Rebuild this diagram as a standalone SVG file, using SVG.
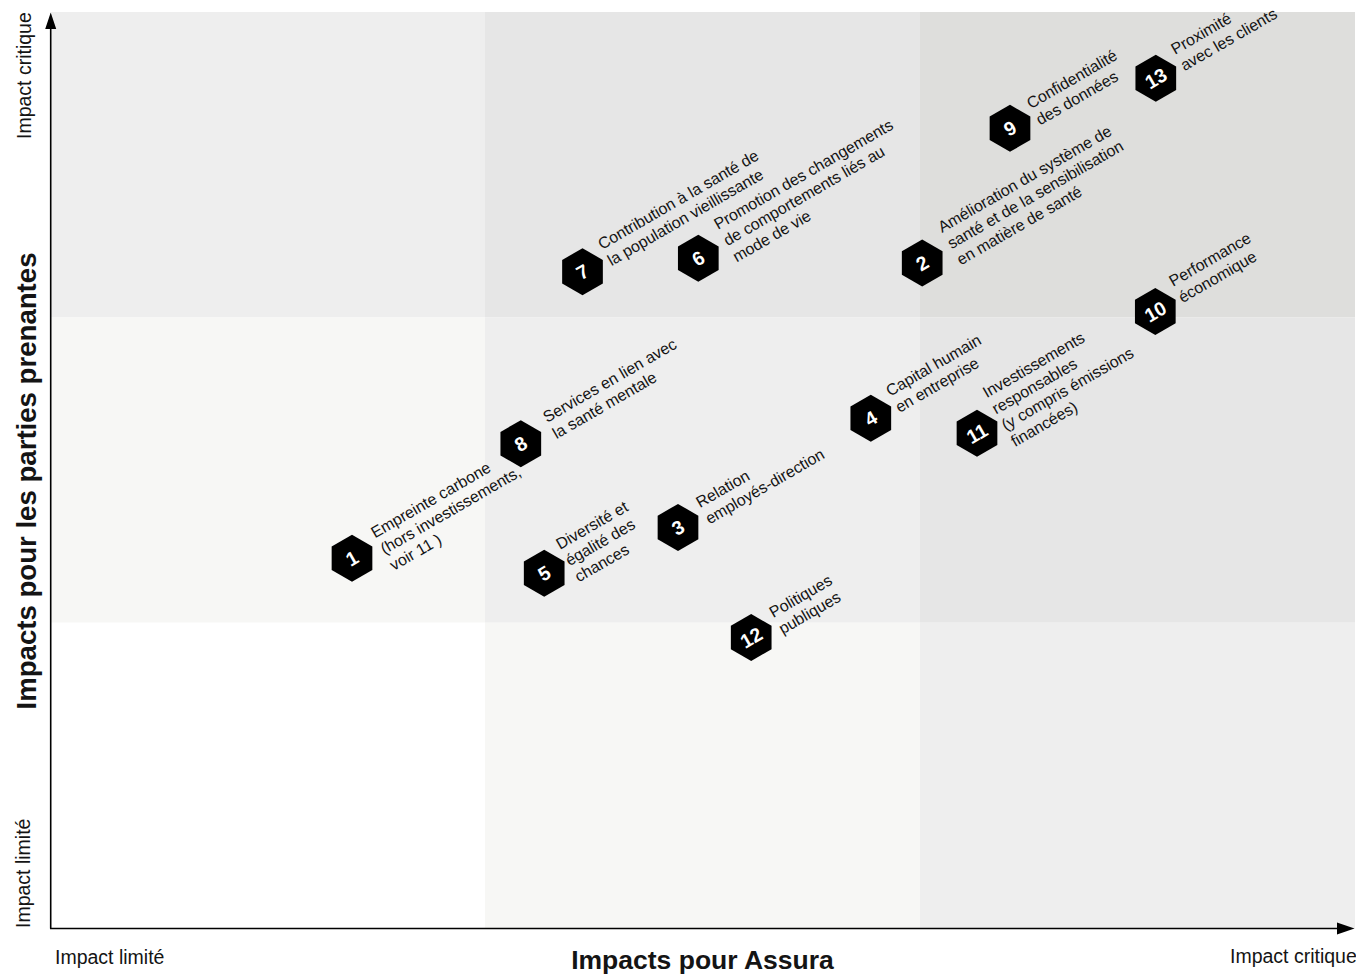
<svg xmlns="http://www.w3.org/2000/svg" xmlns:xlink="http://www.w3.org/1999/xlink" width="1356" height="974" viewBox="0 0 1356 974">
<style>
.l0{fill:#ffffff}.l1{fill:#f7f7f5}.l2{fill:#eeeeee}.l3{fill:#e6e6e6}.l4{fill:#dededc}
.hex{fill:#000000}
.num{font-family:"Liberation Sans",Arial,sans-serif;font-weight:bold;font-size:19.5px;fill:#ffffff;text-anchor:middle}
.lab{font-family:"Liberation Sans",Arial,sans-serif;font-size:16px;fill:#141414}
.ax{font-family:"Liberation Sans",Arial,sans-serif;font-size:19.5px;fill:#141414}
.axb{font-family:"Liberation Sans",Arial,sans-serif;font-weight:bold;fill:#141414}
.axis{stroke:#000;stroke-width:1.6;fill:none}
</style>
<defs>
<polygon id="hex" points="0,-23.5 20.35,-11.75 20.35,11.75 0,23.5 -20.35,11.75 -20.35,-11.75"/>
</defs>
<g id="grid">
<rect class="l2" x="51" y="12" width="434" height="305.5"/>
<rect class="l3" x="485" y="12" width="435" height="305.5"/>
<rect class="l4" x="920" y="12" width="435" height="305.5"/>
<rect class="l1" x="51" y="317.5" width="434" height="305.2"/>
<rect class="l2" x="485" y="317.5" width="435" height="305.2"/>
<rect class="l3" x="920" y="317.5" width="435" height="305.2"/>
<rect class="l0" x="51" y="622.7" width="434" height="305.8"/>
<rect class="l1" x="485" y="622.7" width="435" height="305.8"/>
<rect class="l2" x="920" y="622.7" width="435" height="305.8"/>
</g>
<g id="axes">
<line class="axis" x1="50.7" y1="928.5" x2="50.7" y2="26"/>
<polygon points="50.7,12.5 56.2,29 45.2,29" fill="#000"/>
<line class="axis" x1="50" y1="928.5" x2="1340" y2="928.5"/>
<polygon points="1354.5,928.5 1337,922.5 1337,934.5" fill="#000"/>
<text class="ax" transform="translate(31,139) rotate(-90)">Impact critique</text>
<text class="ax" transform="translate(30,928) rotate(-90)">Impact limité</text>
<text class="axb" font-size="27.6" transform="translate(35.5,481) rotate(-90)" text-anchor="middle">Impacts pour les parties prenantes</text>
<text class="ax" x="55" y="964">Impact limité</text>
<text class="ax" x="1230" y="963">Impact critique</text>
<text class="axb" font-size="26.5" x="702.5" y="969" text-anchor="middle">Impacts pour Assura</text>
</g>
<g id="n1">
<use xlink:href="#hex" href="#hex" class="hex" transform="translate(352,558.3)"/>
<text class="num" transform="translate(352,558.3) rotate(-30)" y="7">1</text>
<text class="lab" transform="translate(375,538.5) rotate(-30)"><tspan x="0" y="0">Empreinte carbone</tspan><tspan x="0" dy="18.8">(hors investissements,</tspan><tspan x="0" dy="18.8">voir 11 )</tspan></text>
</g>
<g id="n2">
<use xlink:href="#hex" href="#hex" class="hex" transform="translate(922.2,263)"/>
<text class="num" transform="translate(922.2,263) rotate(-30)" y="7">2</text>
<text class="lab" transform="translate(942,233) rotate(-30)"><tspan x="0" y="0">Amélioration du système de</tspan><tspan x="0" dy="18.8">santé et de la sensibilisation</tspan><tspan x="0" dy="18.8">en matière de santé</tspan></text>
</g>
<g id="n3">
<use xlink:href="#hex" href="#hex" class="hex" transform="translate(678,527.4)"/>
<text class="num" transform="translate(678,527.4) rotate(-30)" y="7">3</text>
<text class="lab" transform="translate(700,508.3) rotate(-30)"><tspan x="0" y="0">Relation</tspan><tspan x="0" dy="18.8">employés-direction</tspan></text>
</g>
<g id="n4">
<use xlink:href="#hex" href="#hex" class="hex" transform="translate(870.8,418.3)"/>
<text class="num" transform="translate(870.8,418.3) rotate(-30)" y="7">4</text>
<text class="lab" transform="translate(890,396.7) rotate(-30)"><tspan x="0" y="0">Capital humain</tspan><tspan x="0" dy="18.8">en entreprise</tspan></text>
</g>
<g id="n5">
<use xlink:href="#hex" href="#hex" class="hex" transform="translate(544.2,573.3)"/>
<text class="num" transform="translate(544.2,573.3) rotate(-30)" y="7">5</text>
<text class="lab" transform="translate(560,550) rotate(-30)"><tspan x="0" y="0">Diversité et</tspan><tspan x="0" dy="18.8">égalité des</tspan><tspan x="0" dy="18.8">chances</tspan></text>
</g>
<g id="n6">
<use xlink:href="#hex" href="#hex" class="hex" transform="translate(698.3,258.3)"/>
<text class="num" transform="translate(698.3,258.3) rotate(-30)" y="7">6</text>
<text class="lab" transform="translate(718,230) rotate(-30)"><tspan x="0" y="0">Promotion des changements</tspan><tspan x="0" dy="18.8">de comportements liés au</tspan><tspan x="0" dy="18.8">mode de vie</tspan></text>
</g>
<g id="n7">
<use xlink:href="#hex" href="#hex" class="hex" transform="translate(582.5,271.7)"/>
<text class="num" transform="translate(582.5,271.7) rotate(-30)" y="7">7</text>
<text class="lab" transform="translate(602,250) rotate(-30)"><tspan x="0" y="0">Contribution à la santé de</tspan><tspan x="0" dy="18.8">la population vieillissante</tspan></text>
</g>
<g id="n8">
<use xlink:href="#hex" href="#hex" class="hex" transform="translate(520.8,443.7)"/>
<text class="num" transform="translate(520.8,443.7) rotate(-30)" y="7">8</text>
<text class="lab" transform="translate(547,423) rotate(-30)"><tspan x="0" y="0">Services en lien avec</tspan><tspan x="0" dy="18.8">la santé mentale</tspan></text>
</g>
<g id="n9">
<use xlink:href="#hex" href="#hex" class="hex" transform="translate(1010,128.3)"/>
<text class="num" transform="translate(1010,128.3) rotate(-30)" y="7">9</text>
<text class="lab" transform="translate(1030.7,109.3) rotate(-30)"><tspan x="0" y="0">Confidentialité</tspan><tspan x="0" dy="18.8">des données</tspan></text>
</g>
<g id="n10">
<use xlink:href="#hex" href="#hex" class="hex" transform="translate(1155.3,311.5)"/>
<text class="num" transform="translate(1155.3,311.5) rotate(-30)" y="7">10</text>
<text class="lab" transform="translate(1173,287) rotate(-30)"><tspan x="0" y="0">Performance</tspan><tspan x="0" dy="18.8">économique</tspan></text>
</g>
<g id="n11">
<use xlink:href="#hex" href="#hex" class="hex" transform="translate(977,433.3)"/>
<text class="num" transform="translate(977,433.3) rotate(-30)" y="7">11</text>
<text class="lab" transform="translate(986.7,398.3) rotate(-30)"><tspan x="0" y="0">Investissements</tspan><tspan x="0" dy="18.8">responsables</tspan><tspan x="0" dy="18.8">(y compris émissions</tspan><tspan x="0" dy="18.8">financées)</tspan></text>
</g>
<g id="n12">
<use xlink:href="#hex" href="#hex" class="hex" transform="translate(751.2,637.5)"/>
<text class="num" transform="translate(751.2,637.5) rotate(-30)" y="7">12</text>
<text class="lab" transform="translate(773.3,618.3) rotate(-30)"><tspan x="0" y="0">Politiques</tspan><tspan x="0" dy="18.8">publiques</tspan></text>
</g>
<g id="n13">
<use xlink:href="#hex" href="#hex" class="hex" transform="translate(1155.8,78.3)"/>
<text class="num" transform="translate(1155.8,78.3) rotate(-30)" y="7">13</text>
<text class="lab" transform="translate(1175,55) rotate(-30)"><tspan x="0" y="0">Proximité</tspan><tspan x="0" dy="18.8">avec les clients</tspan></text>
</g>
</svg>
